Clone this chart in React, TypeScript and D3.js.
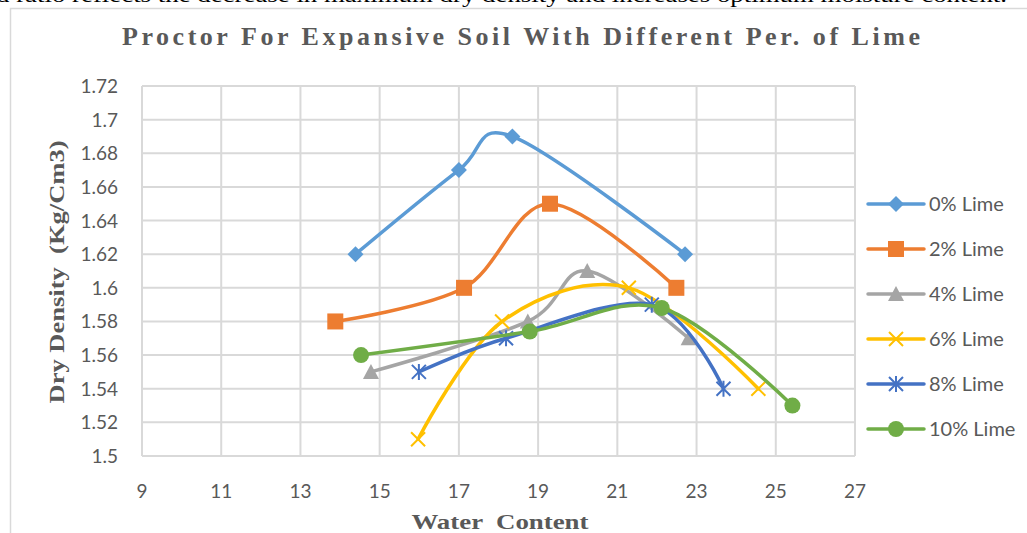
import React from "react";
import * as d3 from "d3";

const W = 1027;
const H = 533;

const seriesNames = ["0% Lime", "2% Lime", "4% Lime", "6% Lime", "8% Lime", "10% Lime"];
const seriesColors = ["#5B9BD5", "#ED7D31", "#A5A5A5", "#FFC000", "#4472C4", "#70AD47"];
const seriesMarkers = ["diamond", "square", "triangle", "x", "star", "circle"];

const lime0X = [14.39, 17.0, 18.35, 22.71];
const lime0Y = [1.62, 1.67, 1.69, 1.62];
const lime2X = [13.88, 17.13, 19.3, 22.49];
const lime2Y = [1.58, 1.6, 1.65, 1.6];
const lime4X = [14.78, 18.74, 20.24, 22.8];
const lime4Y = [1.55, 1.58, 1.61, 1.57];
const lime6X = [15.97, 18.09, 21.29, 24.56];
const lime6Y = [1.51, 1.58, 1.6, 1.54];
const lime8X = [15.99, 18.19, 21.87, 23.68];
const lime8Y = [1.55, 1.57, 1.59, 1.54];
const lime10X = [14.53, 18.79, 22.12, 25.42];
const lime10Y = [1.56, 1.574, 1.588, 1.53];

const seriesX = [lime0X, lime2X, lime4X, lime6X, lime8X, lime10X];
const seriesY = [lime0Y, lime2Y, lime4Y, lime6Y, lime8Y, lime10Y];

const xTicks = [9, 11, 13, 15, 17, 19, 21, 23, 25, 27];
const yTicks = [1.5, 1.52, 1.54, 1.56, 1.58, 1.6, 1.62, 1.64, 1.66, 1.68, 1.7, 1.72];

const title = "Proctor For Expansive Soil With Different Per. of Lime";
const xLabel = "Water  Content";
const yLabel = "Dry Density  (Kg/Cm3)";
const topText = "d ratio reflects the decrease in maximum dry density and increases optimum moisture content.";

const sans = "Lato, 'Open Sans', sans-serif";
const serif = "'Liberation Serif', 'DejaVu Serif', serif";

function Marker({ type, x, y, color }: { type: string; x: number; y: number; color: string }) {
  switch (type) {
    case "diamond":
      return <path d={`M${x},${y - 8}L${x + 8},${y}L${x},${y + 8}L${x - 8},${y}Z`} fill={color} />;
    case "square":
      return <rect x={x - 8} y={y - 8} width={16} height={16} fill={color} />;
    case "triangle":
      return <path d={`M${x},${y - 8}L${x + 8},${y + 7}L${x - 8},${y + 7}Z`} fill={color} />;
    case "x":
      return (
        <path
          d={`M${x - 7},${y - 7}L${x + 7},${y + 7}M${x + 7},${y - 7}L${x - 7},${y + 7}`}
          stroke={color}
          strokeWidth={2}
        />
      );
    case "star":
      return (
        <path
          d={`M${x - 7},${y - 7}L${x + 7},${y + 7}M${x + 7},${y - 7}L${x - 7},${y + 7}M${x},${y - 8}L${x},${y + 8}`}
          stroke={color}
          strokeWidth={2}
        />
      );
    default:
      return <circle cx={x} cy={y} r={8} fill={color} />;
  }
}

export default function App() {
  const x = d3.scaleLinear().domain([9, 27]).range([142, 855]);
  const y = d3.scaleLinear().domain([1.5, 1.72]).range([456, 86]);
  const line = d3
    .line<[number, number]>()
    .x((d) => x(d[0]))
    .y((d) => y(d[1]))
    .curve(d3.curveCardinal.tension(0));

  const legendY = (i: number) => 204 + i * 45;

  return (
    <svg
      width={W}
      height={H}
      style={{ position: "absolute", left: 0, top: 0, display: "block", background: "#fff" }}
    >
      <text
        x={-4}
        y={2}
        fontFamily={serif}
        fontSize={21}
        fill="#000"
        textLength={1011}
        lengthAdjust="spacingAndGlyphs"
      >
        {topText}
      </text>
      <rect x={10.5} y={8.5} width={1100} height={700} fill="#fff" stroke="#d9d9d9" strokeWidth={1.5} />

      {/* grid */}
      {xTicks.map((t) => (
        <line key={"gx" + t} x1={x(t)} x2={x(t)} y1={y(1.72)} y2={y(1.5)} stroke="#d9d9d9" strokeWidth={2} />
      ))}
      {yTicks.map((t) => (
        <line key={"gy" + t} x1={x(9)} x2={x(27)} y1={y(t)} y2={y(t)} stroke="#d9d9d9" strokeWidth={2} />
      ))}

      {/* tick labels */}
      {xTicks.map((t) => (
        <text key={"tx" + t} x={x(t)} y={498} textAnchor="middle" fontFamily={sans} fontSize={19} fill="#595959">
          {t}
        </text>
      ))}
      {yTicks.map((t) => (
        <text key={"ty" + t} x={118} y={y(t) + 7} textAnchor="end" fontFamily={sans} fontSize={19} fill="#595959">
          {d3.format("~g")(t)}
        </text>
      ))}

      {/* series */}
      {seriesNames.map((name, i) => {
        const pts = seriesX[i].map((v, j) => [v, seriesY[i][j]] as [number, number]);
        return (
          <g key={name}>
            <path d={line(pts) || ""} fill="none" stroke={seriesColors[i]} strokeWidth={3.5} strokeLinecap="round" />
            {pts.map((p, j) => (
              <Marker key={j} type={seriesMarkers[i]} x={x(p[0])} y={y(p[1])} color={seriesColors[i]} />
            ))}
          </g>
        );
      })}

      {/* legend */}
      {seriesNames.map((name, i) => (
        <g key={"lg" + name}>
          <line x1={868} x2={924} y1={legendY(i)} y2={legendY(i)} stroke={seriesColors[i]} strokeWidth={3.5} strokeLinecap="round" />
          <Marker type={seriesMarkers[i]} x={896} y={legendY(i)} color={seriesColors[i]} />
          <text x={929} y={legendY(i) + 7} fontFamily={sans} fontSize={20} fill="#595959">
            {name}
          </text>
        </g>
      ))}

      {/* titles */}
      <text
        x={521}
        y={45}
        textAnchor="middle"
        fontFamily={serif}
        fontWeight="bold"
        fontSize={26}
        fill="#595959"
        textLength={798}
        lengthAdjust="spacing"
      >
        {title}
      </text>
      <text
        x={500}
        y={529}
        textAnchor="middle"
        fontFamily={serif}
        fontWeight="bold"
        fontSize={22}
        fill="#595959"
        textLength={177}
        lengthAdjust="spacingAndGlyphs"
        style={{ whiteSpace: "pre" }}
      >
        {xLabel}
      </text>
      <text
        transform={`translate(64,272) rotate(-90)`}
        textAnchor="middle"
        fontFamily={serif}
        fontWeight="bold"
        fontSize={22}
        fill="#595959"
        textLength={263}
        lengthAdjust="spacingAndGlyphs"
        style={{ whiteSpace: "pre" }}
      >
        {yLabel}
      </text>
    </svg>
  );
}
